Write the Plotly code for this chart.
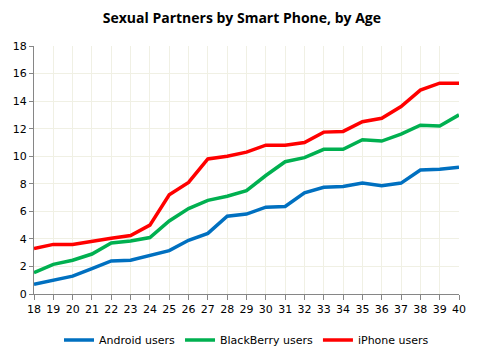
import plotly.graph_objects as go

ages = list(range(18, 41))
android = [0.7, 1.0, 1.3, 1.85, 2.4, 2.45, 2.8, 3.15, 3.9, 4.4, 5.65, 5.8, 6.3, 6.35, 7.35, 7.75, 7.8, 8.05, 7.85, 8.05, 9.0, 9.05, 9.2]
blackberry = [1.55, 2.15, 2.45, 2.9, 3.7, 3.85, 4.1, 5.3, 6.2, 6.8, 7.1, 7.5, 8.6, 9.6, 9.9, 10.5, 10.5, 11.2, 11.1, 11.6, 12.25, 12.2, 13.0]
iphone = [3.3, 3.6, 3.6, 3.85, 4.05, 4.25, 5.0, 7.2, 8.1, 9.8, 10.0, 10.3, 10.8, 10.8, 11.0, 11.75, 11.8, 12.5, 12.75, 13.6, 14.8, 15.3, 15.3]

series = [("Android users", android, "#0070C0"),
          ("BlackBerry users", blackberry, "#00B050"),
          ("iPhone users", iphone, "#FF0000")]

fig = go.Figure()
for name, vals, col in series:
    fig.add_trace(go.Scatter(x=ages, y=vals, mode="lines", name=name,
                             line=dict(color=col, width=3.5)))

axis_font = dict(family="DejaVu Sans", size=11, color="#000000")
fig.update_layout(
    width=479, height=353,
    margin=dict(l=34, r=20, t=46, b=59),
    paper_bgcolor="white", plot_bgcolor="white",
    title=dict(text="<b>Sexual Partners by Smart Phone, by Age</b>",
               x=0.505, xanchor="center", y=0.95, yanchor="middle",
               font=dict(family="Open Sans", size=14, color="#000000")),
    xaxis=dict(range=[18, 40], tickmode="linear", tick0=18, dtick=1,
               showgrid=True, gridcolor="#F0F0E4", gridwidth=1,
               showline=True, linecolor="#868686", linewidth=1,
               ticks="outside", ticklen=5, tickcolor="#868686",
               tickfont=axis_font, zeroline=False, automargin=False),
    yaxis=dict(range=[0, 18], tickmode="linear", tick0=0, dtick=2,
               showgrid=True, gridcolor="#F0F0E4", gridwidth=1,
               showline=True, linecolor="#868686", linewidth=1,
               ticks="outside", ticklen=4, tickcolor="#868686",
               tickfont=axis_font, zeroline=False, automargin=False),
    legend=dict(orientation="h", x=0.5, xanchor="center",
                yref="container", y=1 - 340 / 353, yanchor="middle",
                font=dict(family="DejaVu Sans", size=11, color="#000000"),
                itemwidth=30, tracegroupgap=0),
    showlegend=True,
)

fig.write_html("out.html")
